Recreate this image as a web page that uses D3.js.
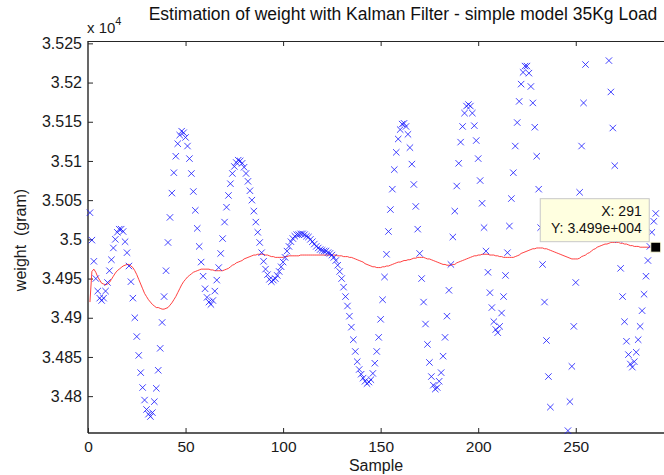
<!DOCTYPE html>
<html><head><meta charset="utf-8">
<script src="https://cdn.jsdelivr.net/npm/d3@7"></script>
<style>
body{margin:0;background:#fff}
svg{display:block;font-family:"Liberation Sans",Arial,Helvetica,sans-serif}
</style>
</head><body>
<svg id="chart" width="664" height="475"></svg>
<script>
// ---- data (grams), sample n = index+1 ----
const measured = [
35034,34999,34972,34950,34934,34925,34922,34925,34934,34945,
34960,34974,34989,35000,35009,35013,35013,35010,34997,34983,
34966,34946,34925,34900,34876,34852,34830,34811,34795,34783,
34777,34774,34779,34793,34810,34833,34861,34894,34927,34960,
34996,35028,35059,35085,35106,35122,35133,35138,35136,35130,
35119,35103,35084,35061,35037,35014,34991,34971,34953,34937,
34926,34920,34917,34922,34934,34948,34964,34982,35001,35022,
35041,35056,35071,35084,35093,35098,35101,35100,35097,35092,
35084,35074,35062,35050,35036,35022,35009,34996,34983,34972,
34962,34955,34949,34946,34948,34950,34954,34959,34965,34971,
34977,34985,34991,34997,35001,35004,35006,35006,35007,35007,
35006,35004,35003,35000,34997,34994,34991,34989,34987,34986,
34985,34985,34983,34982,34980,34977,34973,34967,34959,34950,
34939,34927,34915,34902,34888,34872,34857,34844,34834,34828,
34823,34819,34816,34818,34821,34829,34842,34857,34875,34898,
34923,34952,34981,35010,35038,35064,35089,35111,35128,35140,
35147,35148,35144,35134,35117,35096,35070,35042,35013,34982,
34950,34920,34892,34866,34843,34825,34814,34809,34811,34819,
34830,34851,34875,34902,34935,34968,35003,35036,35068,35097,
35124,35144,35161,35170,35172,35170,35161,35145,35126,35103,
35075,35046,35015,34985,34958,34932,34913,34895,34885,34881,
34889,34906,34927,34954,34983,35017,35052,35085,35119,35149,
35176,35198,35213,35221,35221,35212,35195,35174,35143,35106,
35064,35015,34968,34920,34871,34825,34786,34750,34719,34696,
34681,34676,34681,34696,34722,34756,34793,34838,34889,34945,
35003,35060,35119,35174,35223,35268,35300,35325,35342,35351,
35353,35351,35342,35325,35300,35268,35228,35188,35142,35094,
35045,35000,34963,34927,34895,34870,34853,34841,34837,34844,
34856,34872,34889,34909,34930,34953,34973,34991,35009,35023,35033
];
const estimated = [
34920,34959,34962,34958,34952,34948,34944,34943,34942,34943,
34945,34949,34953,34957,34960,34962,34964,34966,34967,34968,
34968,34966,34964,34960,34955,34949,34943,34937,34931,34927,
34923,34920,34917,34915,34913,34913,34912,34911,34911,34912,
34913,34916,34919,34923,34927,34932,34937,34942,34946,34949,
34952,34954,34956,34958,34959,34960,34961,34962,34962,34962,
34962,34962,34961,34961,34960,34960,34960,34960,34960,34961,
34962,34963,34965,34967,34968,34970,34971,34972,34973,34975,
34976,34977,34978,34979,34980,34980,34981,34981,34981,34981,
34980,34980,34979,34978,34978,34977,34977,34977,34977,34977,
34978,34978,34979,34979,34979,34979,34979,34979,34980,34980,
34980,34980,34980,34980,34980,34980,34980,34980,34980,34980,
34980,34980,34980,34980,34980,34980,34980,34979,34979,34979,
34978,34978,34978,34977,34977,34976,34975,34974,34973,34972,
34971,34969,34968,34967,34966,34965,34965,34964,34964,34964,
34965,34965,34966,34966,34967,34968,34969,34970,34971,34971,
34972,34973,34973,34974,34974,34975,34976,34976,34977,34977,
34977,34977,34976,34975,34975,34974,34973,34972,34971,34970,
34969,34968,34968,34967,34967,34967,34968,34968,34970,34971,
34972,34973,34974,34975,34976,34977,34978,34979,34979,34980,
34980,34981,34981,34981,34981,34980,34980,34980,34979,34979,
34978,34978,34977,34977,34977,34977,34977,34977,34978,34979,
34980,34982,34983,34984,34985,34986,34987,34988,34988,34989,
34989,34989,34989,34988,34988,34987,34986,34985,34984,34983,
34982,34981,34980,34979,34978,34977,34976,34975,34975,34975,
34975,34976,34978,34979,34980,34982,34983,34985,34987,34988,
34990,34991,34992,34993,34994,34994,34995,34996,34996,34996,
34996,34996,34995,34995,34994,34994,34993,34992,34992,34991,
34991,34991,34990,34990,34990,34990,34990,34990,34990,34990,34990
];
const xTicks = [0, 50, 100, 150, 200, 250];
const yTickLabels = ["3.48","3.485","3.49","3.495","3.5","3.505","3.51","3.515","3.52","3.525"];
const xLimits = [0, 300];
const yLimits = [34753, 35253];
const tipSample = 291;
const titleText = "Estimation of weight with Kalman Filter - simple model 35Kg Load";

// ---- layout ----
const L = 88, T = 41, B = 433, pxPerSample = 1.951;
const svg = d3.select("#chart");
const x = d3.scaleLinear().domain(xLimits).range([L, L + pxPerSample * (xLimits[1] - xLimits[0])]);
const y = d3.scaleLinear().domain(yLimits).range([B, T]);
const axisColor = "#262626";

svg.append("defs").append("clipPath").attr("id", "clip")
  .append("rect").attr("x", L).attr("y", T).attr("width", 700).attr("height", B - T);

// frame
const frame = svg.append("g").attr("stroke", axisColor).attr("fill", "none");
frame.append("line").attr("x1", L).attr("x2", 700).attr("y1", T + 0.5).attr("y2", T + 0.5).attr("stroke-width", 1);
frame.append("line").attr("x1", L).attr("x2", 700).attr("y1", B).attr("y2", B).attr("stroke-width", 1.6);
frame.append("line").attr("x1", L).attr("x2", L).attr("y1", T).attr("y2", B).attr("stroke-width", 1.4);

// axes
const yTickVals = yTickLabels.map(s => +s * 1e4);
const yAxis = d3.axisLeft(y).tickValues(yTickVals).tickSize(-5).tickSizeOuter(0).tickPadding(6)
  .tickFormat((d, i) => yTickLabels[i]);
const gy = svg.append("g").attr("transform", `translate(${L},0)`).call(yAxis);
gy.select(".domain").remove();
gy.selectAll("line").attr("stroke", axisColor);
gy.selectAll("text").attr("font-size", 16).attr("fill", "#1a1a1a").attr("font-family", null);

const xAxis = d3.axisBottom(x).tickValues(xTicks).tickSize(-5).tickSizeOuter(0).tickPadding(8).tickFormat(d3.format("d"));
const gx = svg.append("g").attr("transform", `translate(0,${B})`).call(xAxis);
gx.select(".domain").remove();
gx.selectAll("line").attr("stroke", axisColor);
gx.selectAll("text").attr("font-size", 15.5).attr("fill", "#1a1a1a").attr("font-family", null);

const xTop = d3.axisTop(x).tickValues(xTicks.filter(d => d > 0)).tickSize(-5).tickSizeOuter(0).tickFormat("");
const gt = svg.append("g").attr("transform", `translate(0,${T})`).call(xTop);
gt.select(".domain").remove();
gt.selectAll("line").attr("stroke", axisColor);

// ---- marks ----
const plot = svg.append("g").attr("clip-path", "url(#clip)");
const est = estimated.map((v, i) => [i + 1, v]);
plot.append("path").datum(est)
  .attr("fill", "none").attr("stroke", "#ff2020").attr("stroke-width", 1).attr("stroke-opacity", 0.85)
  .attr("d", d3.line().x(d => x(d[0])).y(d => y(d[1])));

const pts = measured.map((v, i) => [i + 1, v]).filter(d => d[1] >= yLimits[0] && d[1] <= yLimits[1]);
const s = 3.2;
svg.append("g").selectAll("path").data(pts).join("path")
  .attr("d", d => { const cx = x(d[0]), cy = y(d[1]);
    return `M${cx - s},${cy - s}L${cx + s},${cy + s}M${cx - s},${cy + s}L${cx + s},${cy - s}`; })
  .attr("stroke", "#1515ff").attr("stroke-width", 1).attr("stroke-opacity", 0.8).attr("fill", "none");

// ---- labels ----
svg.append("text").attr("x", 403).attr("y", 20).attr("text-anchor", "middle")
  .attr("font-size", 17.5).attr("fill", "#111").text(titleText);
const mult = svg.append("text").attr("x", L - 1).attr("y", 33).attr("font-size", 15).attr("fill", "#1a1a1a");
mult.append("tspan").text("x 10");
mult.append("tspan").attr("dy", -8).attr("font-size", 11).text("4");
svg.append("text").attr("x", 376).attr("y", 471).attr("text-anchor", "middle")
  .attr("font-size", 16).attr("fill", "#1a1a1a").text("Sample");
svg.append("text").attr("transform", "translate(26,240) rotate(-90)").attr("text-anchor", "middle")
  .attr("font-size", 16).attr("fill", "#1a1a1a").style("white-space", "pre").text("weight  (gram)");

// ---- data tip ----
const tipV = estimated[tipSample - 1];
const px = x(tipSample), py = y(tipV);
const tip = svg.append("g");
tip.append("rect").attr("x", px - 115.5).attr("y", py - 48.5).attr("width", 109).attr("height", 43)
  .attr("fill", "#ffffe0").attr("stroke", "#c8c8c8").attr("stroke-width", 1);
tip.append("text").attr("x", px - 14).attr("y", py - 31).attr("text-anchor", "end").attr("font-size", 14)
  .attr("fill", "#111").text("X: " + tipSample);
tip.append("text").attr("x", px - 14).attr("y", py - 14).attr("text-anchor", "end").attr("font-size", 14)
  .attr("fill", "#111").text("Y: " + d3.format(".3e")(tipV).replace("e+4", "e+004"));
tip.append("rect").attr("x", px - 5).attr("y", py - 5).attr("width", 10).attr("height", 10)
  .attr("fill", "#000").attr("stroke", "#ffffe0").attr("stroke-width", 1);
</script>
</body></html>
